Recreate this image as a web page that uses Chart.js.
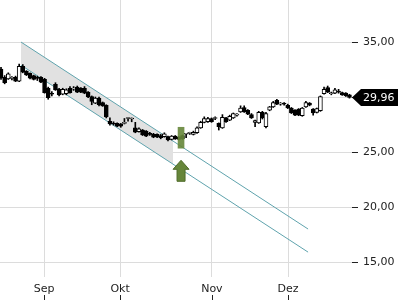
<!DOCTYPE html>
<html>
<head>
<meta charset="utf-8">
<script src="https://cdn.jsdelivr.net/npm/chart.js@4.4.0/dist/chart.umd.min.js"></script>
<style>
  html, body { margin: 0; padding: 0; background: #fff; }
  #wrap { width: 400px; height: 300px; }
</style>
</head>
<body>
<div id="wrap"><canvas id="kurs"></canvas></div>
<script>
// Kerzen (Handelstage, Index 0..96)
let opens  = [32.54,31.8,31.65,31.7,31.8,31.45,32.8,32.35,32.15,31.95,31.75,31.8,31.6,30.8,30.3,31.15,30.7,30.25,30.3,30.8,
              30.72,30.9,30.8,30.8,30.45,30.05,29.45,29.9,29.5,29.25,27.8,27.6,27.6,27.55,27.6,28.05,28.0,27.2,26.85,27.0,
              26.9,26.65,26.62,26.6,26.5,26.4,26.4,26.15,26.45,26.35,26.5,26.62,26.7,26.6,26.75,27.2,27.7,27.75,28.05,28.05,
              27.6,27.2,28.1,27.9,28.1,28.35,28.65,29.05,28.8,28.4,27.7,27.65,28.6,27.3,28.8,29.1,29.7,29.35,29.4,29.25,
              29.0,28.8,28.9,28.3,29.1,29.45,28.9,28.6,28.75,30.3,30.85,30.3,30.35,30.5,30.4,30.35,30.2];
let closes = [31.72,31.3,32.1,31.72,31.45,32.8,32.27,32.0,31.72,31.6,31.7,31.36,30.4,29.95,30.25,30.65,30.2,30.7,30.65,30.4,
              30.75,30.45,30.45,30.35,30.0,29.6,29.9,29.3,29.2,28.2,27.55,27.55,27.35,27.35,27.7,28.1,28.08,26.8,27.1,26.55,
              26.45,26.6,26.35,26.4,26.3,26.65,26.1,26.45,26.2,26.15,26.2,26.66,26.72,26.8,27.2,27.7,28.05,28.05,27.75,28.1,
              27.3,28.15,27.75,28.25,28.5,28.4,29.0,28.65,28.45,28.1,27.85,28.6,28.1,28.5,29.1,29.5,29.35,29.4,29.35,29.0,
              28.55,28.35,28.35,29.0,29.5,29.25,28.55,28.95,30.05,30.7,30.45,30.35,30.65,30.45,30.2,30.1,29.96];
let highs  = [32.7,31.95,32.2,31.85,31.9,33.0,32.95,32.4,32.2,32.0,31.9,31.85,31.7,30.9,30.5,31.3,30.8,30.8,30.75,30.95,
              30.95,31.0,30.85,30.95,30.5,30.1,30.0,30.0,29.55,29.3,28.1,27.75,27.65,27.6,28.05,28.12,28.1,27.7,27.2,27.05,
              26.95,26.8,26.7,26.65,26.6,26.75,26.45,26.5,26.5,26.4,26.55,26.7,26.8,26.9,27.3,27.8,28.2,28.15,28.1,28.2,
              27.65,28.4,28.15,28.35,28.55,28.5,29.2,29.2,28.85,28.5,27.9,28.7,28.7,28.6,29.15,29.6,29.8,29.5,29.5,29.35,
              29.05,28.85,28.95,29.05,29.6,29.5,28.95,29.0,30.1,30.9,31.0,30.45,30.8,30.7,30.45,30.4,30.25];
let lows   = [31.6,31.2,31.6,31.55,31.4,31.4,32.2,31.95,31.65,31.55,31.5,31.3,30.35,29.8,30.1,30.6,30.1,30.2,30.2,30.35,
              30.6,30.4,30.4,30.3,29.95,29.3,29.4,29.2,29.15,28.1,27.45,27.45,27.3,27.25,27.55,27.8,27.75,26.75,26.8,26.5,
              26.4,26.5,26.3,26.3,26.2,26.35,26.0,26.1,26.15,26.1,26.15,26.3,26.6,26.55,26.7,27.15,27.65,27.7,27.7,27.95,
              27.0,27.15,27.7,27.85,28.05,28.25,28.6,28.6,28.4,28.05,27.3,27.6,28.0,27.2,28.75,29.05,29.3,29.25,29.25,28.95,
              28.5,28.3,28.3,28.25,29.05,29.2,28.35,28.55,28.7,30.25,30.4,30.2,30.3,30.35,30.15,30.05,29.9];

// Monatsachse
let monthPos    = [11.85, 32.8, 58.1, 79.1];
let monthLabels = ['Sep', 'Okt', 'Nov', 'Dez'];
let yTicks      = [15, 20, 25, 30, 35];

// Trendkanal: Start/Ende (Index, Kurs)
let kanalX     = [5.5, 84.6];
let kanalOben  = [35.0, 18.0];
let kanalUnten = [32.9, 15.9];
let schattenEnde = 47.4;

// Signal
let signalX = 49.6;
let signalBalken = [25.35, 27.25];
let pfeilSpitze = 24.25, pfeilKopf = 23.43, pfeilFuss = 22.34;

let fmt = v => v.toFixed(2).replace('.', ',');

let dochte = [], koerper = [], farben = [];
for (let i = 0; i < closes.length; i++) {
    dochte.push({ x: i, y: [lows[i], highs[i]] });
    koerper.push({ x: i, y: [opens[i], closes[i]] });
    farben.push(closes[i] >= opens[i] ? '#ffffff' : '#000000');
}

let lerp = (a, b, t) => a + (b - a) * t;
let t = (schattenEnde - kanalX[0]) / (kanalX[1] - kanalX[0]);

let pfeilPlugin = {
    id: 'pfeil',
    afterDatasetsDraw(chart) {
        let ctx = chart.ctx, xs = chart.scales.x, ys = chart.scales.y;
        let cx = xs.getPixelForValue(signalX);
        let yt = ys.getPixelForValue(pfeilSpitze);
        let yk = ys.getPixelForValue(pfeilKopf);
        let yf = ys.getPixelForValue(pfeilFuss);
        ctx.save();
        ctx.fillStyle = '#66863a';
        ctx.strokeStyle = '#4f6b2a';
        ctx.lineWidth = 1;
        ctx.beginPath();
        ctx.moveTo(cx, yt);
        ctx.lineTo(cx + 8, yk);
        ctx.lineTo(cx + 4, yk);
        ctx.lineTo(cx + 4, yf);
        ctx.lineTo(cx - 4, yf);
        ctx.lineTo(cx - 4, yk);
        ctx.lineTo(cx - 8, yk);
        ctx.closePath();
        ctx.fill();
        ctx.stroke();
        ctx.restore();
    },
    afterDraw(chart) {
        let ctx = chart.ctx, xs = chart.scales.x, ys = chart.scales.y;
        let last = closes[closes.length - 1];
        let y = Math.round(ys.getPixelForValue(last)) + 0.5;
        let x0 = chart.chartArea.right;
        ctx.save();
        ctx.fillStyle = '#000';
        ctx.beginPath();
        ctx.moveTo(x0, y);
        ctx.lineTo(x0 + 9, y - 8.5);
        ctx.lineTo(398, y - 8.5);
        ctx.lineTo(398, y + 8.5);
        ctx.lineTo(x0 + 9, y + 8.5);
        ctx.closePath();
        ctx.fill();
        ctx.fillStyle = '#fff';
        ctx.font = '11px "DejaVu Sans"';
        ctx.textBaseline = 'middle';
        ctx.fillText(fmt(last), x0 + 11, y + 0.5);
        // kleine Striche unter den Monatsnamen
        ctx.strokeStyle = '#222';
        ctx.beginPath();
        monthPos.forEach(p => {
            let px = Math.round(xs.getPixelForValue(p)) + 0.5;
            ctx.moveTo(px, 295);
            ctx.lineTo(px, 300);
        });
        ctx.stroke();
        ctx.restore();
    }
};

let config = {
    type: 'bar',
    data: {
        datasets: [
            { type: 'bar', data: [{ x: signalX, y: signalBalken }], backgroundColor: 'rgba(102,134,58,0.9)',
              barThickness: 6, grouped: false, order: -1 },
            { type: 'bar', data: koerper, backgroundColor: farben, borderColor: '#000', borderWidth: 1,
              borderSkipped: false, barThickness: 4, minBarLength: 1, grouped: false, order: 0 },
            { type: 'bar', data: dochte, backgroundColor: '#000', barThickness: 1, grouped: false, order: 1 },
            { type: 'line', data: [{ x: kanalX[0], y: kanalOben[0] }, { x: kanalX[1], y: kanalOben[1] }],
              borderColor: '#5fa3ad', borderWidth: 1, pointRadius: 0, order: 2 },
            { type: 'line', data: [{ x: kanalX[0], y: kanalUnten[0] }, { x: kanalX[1], y: kanalUnten[1] }],
              borderColor: '#5fa3ad', borderWidth: 1, pointRadius: 0, order: 2 },
            { type: 'line', data: [{ x: kanalX[0], y: kanalOben[0] }, { x: schattenEnde, y: lerp(kanalOben[0], kanalOben[1], t) }],
              borderWidth: 0, pointRadius: 0, order: 4 },
            { type: 'line', data: [{ x: kanalX[0], y: kanalUnten[0] }, { x: schattenEnde, y: lerp(kanalUnten[0], kanalUnten[1], t) }],
              borderWidth: 0, pointRadius: 0, fill: '-1', backgroundColor: '#e1e1e1', order: 3 }
        ]
    },
    options: {
        responsive: true,
        maintainAspectRatio: false,
        animation: false,
        layout: { padding: 0, autoPadding: false },
        plugins: { legend: { display: false }, tooltip: { enabled: false } },
        scales: {
            x: {
                type: 'linear', min: -0.28, max: 96.7, offset: false,
                grid: { color: '#dcdcdc', drawTicks: false, offset: false },
                border: { display: false },
                afterBuildTicks: s => { s.ticks = monthPos.map(v => ({ value: v })); },
                afterFit: s => { s.height = 23; s.paddingLeft = 0; s.paddingRight = 0; },
                ticks: {
                    padding: 6, color: '#222', font: { family: 'DejaVu Sans', size: 11 },
                    maxRotation: 0, autoSkip: false,
                    callback: (v, i) => monthLabels[i]
                }
            },
            y: {
                position: 'right', min: 13.64, max: 38.82,
                grid: { color: '#dcdcdc', tickColor: '#222', tickLength: 6 },
                border: { display: false },
                afterBuildTicks: s => { s.ticks = yTicks.map(v => ({ value: v })); },
                afterFit: s => { s.width = 48; s.paddingTop = 0; s.paddingBottom = 0; },
                ticks: {
                    padding: 5, color: '#222', font: { family: 'DejaVu Sans', size: 11 },
                    callback: v => fmt(v)
                }
            }
        }
    },
    plugins: [pfeilPlugin]
};

let ctx = document.getElementById('kurs').getContext('2d');
let myChart = new Chart(ctx, config);
</script>
</body>
</html>
